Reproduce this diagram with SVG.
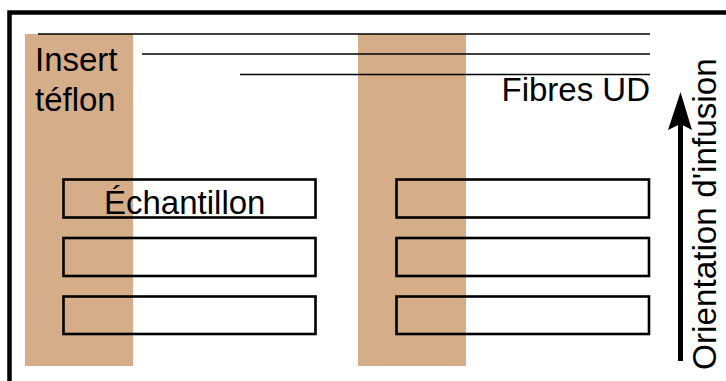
<svg xmlns="http://www.w3.org/2000/svg" width="726" height="381" viewBox="0 0 726 381">
<style>
.strip{fill:#d5ad88}
.fib{stroke:#000;stroke-width:1.5;fill:none}
.sample{stroke:#000;stroke-width:2.6;fill:none}
.lbl{font-family:"Liberation Sans",Arial,sans-serif;font-size:33px;fill:#000}
</style>
<rect width="726" height="381" fill="#fff"/>
<g id="frame"><path d="M9.5,381 V12.5 H726" fill="none" stroke="#000" stroke-width="4.5"/></g>
<g id="teflon-left"><rect class="strip" x="25" y="34" width="108" height="332"/></g>
<g id="teflon-right"><rect class="strip" x="358" y="34" width="108" height="332"/></g>
<g id="fibres">
<line class="fib" x1="38" y1="34" x2="650" y2="34"/>
<line class="fib" x1="142" y1="54" x2="650" y2="54"/>
<line class="fib" x1="240" y1="74.5" x2="650" y2="74.5"/>
</g>
<g id="samples-left">
<rect class="sample" x="63.5" y="179.5" width="252" height="38"/>
<rect class="sample" x="63.5" y="238" width="252" height="38"/>
<rect class="sample" x="63.5" y="296.5" width="252" height="37.5"/>
</g>
<g id="samples-right">
<rect class="sample" x="396.5" y="179.5" width="252.5" height="38"/>
<rect class="sample" x="396.5" y="238" width="252.5" height="38"/>
<rect class="sample" x="396.5" y="296.5" width="252.5" height="37.5"/>
</g>
<g id="labels">
<text class="lbl" x="35" y="71">Insert</text>
<text class="lbl" x="35" y="111">téflon</text>
<text class="lbl" x="650" y="101" text-anchor="end">Fibres UD</text>
<text class="lbl" x="104" y="214">Échantillon</text>
</g>
<g id="connectors">
<line x1="680.5" y1="361" x2="680.5" y2="120" stroke="#000" stroke-width="5"/>
<polygon points="680.5,92 692,130 680.5,124 668,130" fill="#000"/>
</g>
<g id="orientation"><text class="lbl" style="font-size:33.3px" transform="translate(716,370) rotate(-90)">Orientation d'infusion</text></g>
</svg>
